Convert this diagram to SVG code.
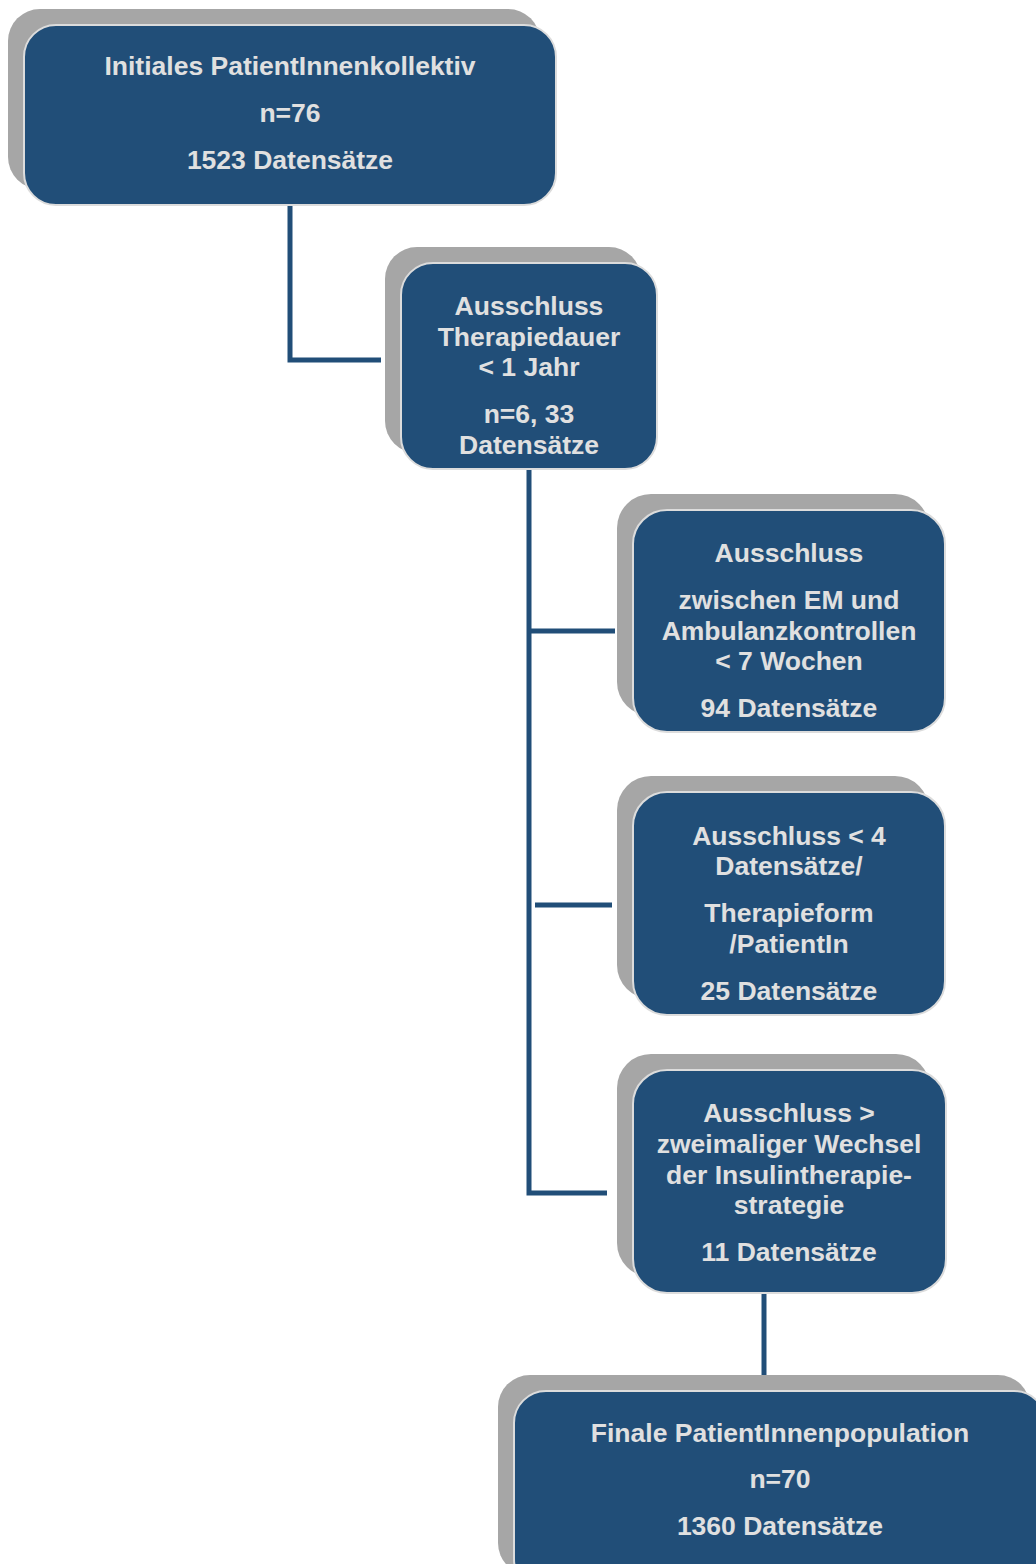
<svg xmlns="http://www.w3.org/2000/svg" width="1036" height="1564" viewBox="0 0 1036 1564">
<style>
.sh{fill:#a6a6a6}
.bx{fill:#214e78;stroke:#dcdcdc;stroke-width:2}
.t{font-family:"Liberation Sans",Arial,sans-serif;font-weight:bold;font-size:26.5px;fill:#e0e0e0;text-anchor:middle}
.c{fill:none;stroke:#214e78;stroke-width:5}
</style>
<rect width="1036" height="1564" fill="#ffffff"/>
<g id="connectors">
<polyline class="c" points="290,205 290,360 381,360"/>
<polyline class="c" points="529,470 529,1193 607,1193"/>
<line class="c" x1="529" y1="631" x2="615" y2="631"/>
<line class="c" x1="535" y1="905" x2="612" y2="905"/>
<line class="c" x1="764" y1="1293" x2="764" y2="1376" stroke-width="4.5"/>
</g>
<g id="node1">
<rect class="sh" x="8" y="9" width="532" height="180" rx="32"/>
<rect class="bx" x="24" y="25" width="532" height="180" rx="32"/>
<text class="t" x="290" y="75">Initiales PatientInnenkollektiv</text>
<text class="t" x="290" y="122">n=76</text>
<text class="t" x="290" y="169">1523 Datensätze</text>
</g>
<g id="node2">
<rect class="sh" x="385" y="247" width="256" height="206" rx="32"/>
<rect class="bx" x="401" y="263" width="256" height="206" rx="32"/>
<text class="t" x="529" y="315">Ausschluss</text>
<text class="t" x="529" y="346">Therapiedauer</text>
<text class="t" x="529" y="376">&lt; 1 Jahr</text>
<text class="t" x="529" y="423">n=6, 33</text>
<text class="t" x="529" y="454">Datensätze</text>
</g>
<g id="node3">
<rect class="sh" x="617" y="494" width="312" height="222" rx="34"/>
<rect class="bx" x="633" y="510" width="312" height="222" rx="34"/>
<text class="t" x="789" y="562">Ausschluss</text>
<text class="t" x="789" y="609">zwischen EM und</text>
<text class="t" x="789" y="640">Ambulanzkontrollen</text>
<text class="t" x="789" y="670">&lt; 7 Wochen</text>
<text class="t" x="789" y="717">94 Datensätze</text>
</g>
<g id="node4">
<rect class="sh" x="617" y="776" width="312" height="223" rx="34"/>
<rect class="bx" x="633" y="792" width="312" height="223" rx="34"/>
<text class="t" x="789" y="845">Ausschluss &lt; 4</text>
<text class="t" x="789" y="875">Datensätze/</text>
<text class="t" x="789" y="922">Therapieform</text>
<text class="t" x="789" y="953">/PatientIn</text>
<text class="t" x="789" y="1000">25 Datensätze</text>
</g>
<g id="node5">
<rect class="sh" x="617" y="1054" width="313" height="223" rx="34"/>
<rect class="bx" x="633" y="1070" width="313" height="223" rx="34"/>
<text class="t" x="789" y="1122">Ausschluss &gt;</text>
<text class="t" x="789" y="1153">zweimaliger Wechsel</text>
<text class="t" x="789" y="1184">der Insulintherapie-</text>
<text class="t" x="789" y="1214">strategie</text>
<text class="t" x="789" y="1261">11 Datensätze</text>
</g>
<g id="node6">
<rect class="sh" x="498" y="1375" width="532" height="200" rx="32"/>
<rect class="bx" x="514" y="1391" width="532" height="200" rx="32"/>
<text class="t" x="780" y="1442">Finale PatientInnenpopulation</text>
<text class="t" x="780" y="1488">n=70</text>
<text class="t" x="780" y="1535">1360 Datensätze</text>
</g>
</svg>
